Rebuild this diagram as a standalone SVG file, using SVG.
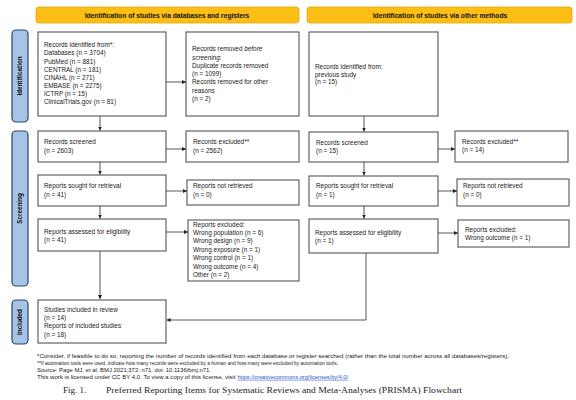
<svg xmlns="http://www.w3.org/2000/svg" width="576" height="400" viewBox="0 0 576 400">
<defs>
<marker id="ah" viewBox="0 0 6 6" refX="6" refY="3" markerWidth="4" markerHeight="4" orient="auto" markerUnits="userSpaceOnUse">
<path d="M0,0 L6,3 L0,6 Z" fill="#222"/>
</marker>
<style>
.box{fill:#fff;stroke:#444;stroke-width:1}
.hdr{fill:#FDBE16;stroke:#E2A40C;stroke-width:0.8}
.side{fill:#A6C4E6;stroke:#2C4567;stroke-width:1.2}
.t{font-family:"Liberation Sans",Arial,sans-serif;font-size:6.4px;fill:#1a1a1a}
.b{font-family:"Liberation Sans",Arial,sans-serif;font-size:6.3px;font-weight:bold;fill:#111}
.h{font-family:"Liberation Sans",Arial,sans-serif;font-size:6.7px;font-weight:bold;fill:#111}
.fn{font-family:"Liberation Sans",Arial,sans-serif;font-size:5.5px;fill:#1a1a1a}
.cap{font-family:"Liberation Serif","Times New Roman",serif;font-size:9px;fill:#222}
.c{fill:none;stroke:#444;stroke-width:0.9}
.ca{fill:none;stroke:#444;stroke-width:0.9;marker-end:url(#ah)}
</style>
</defs>
<rect width="576" height="400" fill="#fff"/>

<g id="hdr-left"><rect class="hdr" x="36" y="7" width="263" height="16" rx="3"/><text class="h" x="167" y="17.6" text-anchor="middle">Identification of studies via databases and registers</text></g>
<g id="hdr-right"><rect class="hdr" x="307" y="7" width="265" height="16" rx="3"/><text class="h" x="440" y="17.6" text-anchor="middle">Identification of studies via other methods</text></g>

<g id="side-identification"><rect class="side" x="12" y="30" width="16" height="92" rx="4"/><text class="b" transform="translate(22.2,76) rotate(-90)" text-anchor="middle">Identification</text></g>
<g id="side-screening"><rect class="side" x="12" y="131" width="16" height="155" rx="4"/><text class="b" transform="translate(22.2,208.5) rotate(-90)" text-anchor="middle">Screening</text></g>
<g id="side-included"><rect class="side" x="12" y="300" width="16" height="44" rx="4"/><text class="b" transform="translate(22.2,322) rotate(-90)" text-anchor="middle">Included</text></g>

<g id="n-identified"><rect class="box" x="38" y="32" width="128" height="84"/>
<text class="t"><tspan x="44" y="47.2">Records identified from*:</tspan><tspan x="44" y="55.35">Databases (n = 3704)</tspan><tspan x="44" y="63.5">PubMed (n = 881)</tspan><tspan x="44" y="71.65">CENTRAL (n = 181)</tspan><tspan x="44" y="79.8">CINAHL (n = 271)</tspan><tspan x="44" y="87.95">EMBASE (n = 2275)</tspan><tspan x="44" y="96.1">ICTRP (n = 15)</tspan><tspan x="44" y="104.25">ClinicalTrials.gov (n = 81)</tspan></text></g>
<g id="n-removed"><rect class="box" x="186" y="32" width="113" height="84"/>
<text class="t"><tspan x="192" y="51.2">Records removed <tspan font-style="italic">before</tspan></tspan><tspan x="192" y="59.5" font-style="italic">screening</tspan><tspan>:</tspan><tspan x="192" y="67.8">Duplicate records removed</tspan><tspan x="192" y="76.1">(n = 1099)</tspan><tspan x="192" y="84.4">Records removed for other</tspan><tspan x="192" y="92.7">reasons</tspan><tspan x="192" y="101">(n = 2)</tspan></text></g>
<g id="n-screened"><rect class="box" x="38" y="131" width="128" height="31"/>
<text class="t"><tspan x="44" y="144.3">Records screened</tspan><tspan x="44" y="152.8">(n = 2603)</tspan></text></g>
<g id="n-excluded"><rect class="box" x="186" y="131" width="113" height="31"/>
<text class="t"><tspan x="193" y="144.3">Records excluded**</tspan><tspan x="193" y="152.8">(n = 2562)</tspan></text></g>
<g id="n-sought"><rect class="box" x="38" y="175" width="128" height="31"/>
<text class="t"><tspan x="44" y="188">Reports sought for retrieval</tspan><tspan x="44" y="196.8">(n = 41)</tspan></text></g>
<g id="n-notretrieved"><rect class="box" x="187" y="180" width="112" height="25"/>
<text class="t"><tspan x="193" y="188">Reports not retrieved</tspan><tspan x="193" y="196.8">(n = 0)</tspan></text></g>
<g id="n-assessed"><rect class="box" x="38" y="219" width="128" height="32"/>
<text class="t"><tspan x="44" y="234">Reports assessed for eligibility</tspan><tspan x="44" y="242.3">(n = 41)</tspan></text></g>
<g id="n-repexcluded"><rect class="box" x="188" y="220" width="111" height="61"/>
<text class="t"><tspan x="193" y="226.5">Reports excluded:</tspan><tspan x="193" y="234.9">Wrong population (n = 6)</tspan><tspan x="193" y="243.3">Wrong design (n = 9)</tspan><tspan x="193" y="251.7">Wrong exposure (n = 1)</tspan><tspan x="193" y="260.1">Wrong control (n = 1)</tspan><tspan x="193" y="268.5">Wrong outcome (n = 4)</tspan><tspan x="193" y="276.9">Other (n = 2)</tspan></text></g>
<g id="n-included"><rect class="box" x="38" y="300" width="128" height="43"/>
<text class="t"><tspan x="44" y="312">Studies included in review</tspan><tspan x="44" y="320.2">(n = 14)</tspan><tspan x="44" y="328.4">Reports of included studies</tspan><tspan x="44" y="336.6">(n = 18)</tspan></text></g>

<g id="o-identified"><rect class="box" x="309" y="32" width="129" height="84"/>
<text class="t"><tspan x="315" y="68.8">Records identified from:</tspan><tspan x="315" y="76.6">previous study</tspan><tspan x="315" y="84.4">(n = 15)</tspan></text></g>
<g id="o-screened"><rect class="box" x="309" y="132" width="129" height="30"/>
<text class="t"><tspan x="316" y="145">Records screened</tspan><tspan x="316" y="153.3">(n = 15)</tspan></text></g>
<g id="o-excluded"><rect class="box" x="455" y="131" width="113" height="31"/>
<text class="t"><tspan x="462" y="144">Records excluded**</tspan><tspan x="462" y="152">(n = 14)</tspan></text></g>
<g id="o-sought"><rect class="box" x="309" y="176" width="129" height="30"/>
<text class="t"><tspan x="316" y="188">Reports sought for retrieval</tspan><tspan x="316" y="196.8">(n = 1)</tspan></text></g>
<g id="o-notretrieved"><rect class="box" x="457" y="179" width="112" height="27"/>
<text class="t"><tspan x="463" y="188">Reports not retrieved</tspan><tspan x="463" y="196.8">(n = 0)</tspan></text></g>
<g id="o-assessed"><rect class="box" x="309" y="219" width="129" height="34"/>
<text class="t"><tspan x="315" y="235">Reports assessed for eligibility</tspan><tspan x="315" y="243">(n = 1)</tspan></text></g>
<g id="o-repexcluded"><rect class="box" x="458" y="220" width="111" height="27"/>
<text class="t"><tspan x="465" y="232">Reports excluded:</tspan><tspan x="465" y="240">Wrong outcome (n = 1)</tspan></text></g>

<g id="connectors">
<line class="ca" x1="166" y1="82" x2="186" y2="82"/>
<line class="ca" x1="100" y1="116" x2="100" y2="130.5"/>
<line class="ca" x1="166" y1="149" x2="186" y2="149"/>
<line class="ca" x1="100" y1="162" x2="100" y2="174.5"/>
<line class="ca" x1="166" y1="191" x2="187" y2="191"/>
<line class="ca" x1="100" y1="206" x2="100" y2="218.5"/>
<line class="ca" x1="166" y1="232" x2="188" y2="232"/>
<line class="ca" x1="100" y1="251" x2="100" y2="299"/>
<line class="ca" x1="364" y1="116" x2="364" y2="131.5"/>
<line class="ca" x1="438" y1="149" x2="455" y2="149"/>
<line class="ca" x1="364" y1="162" x2="364" y2="175.5"/>
<line class="ca" x1="438" y1="191" x2="457" y2="191"/>
<line class="ca" x1="364" y1="206" x2="364" y2="218.5"/>
<line class="ca" x1="438" y1="233" x2="458" y2="233"/>
<polyline class="ca" points="366,253 366,320 166.5,320"/>
</g>

<g id="footnotes">
<text class="fn" x="37" y="357.5" textLength="472" lengthAdjust="spacingAndGlyphs">*Consider, if feasible to do so, reporting the number of records identified from each database or register searched (rather than the total number across all databases/registers).</text>
<text class="fn" x="37" y="364.6" textLength="301" lengthAdjust="spacingAndGlyphs">**If automation tools were used, indicate how many records were excluded by a human and how many were excluded by automation tools.</text>
<text class="fn" x="37" y="371.7" textLength="174" lengthAdjust="spacingAndGlyphs">Source: Page MJ, et al. BMJ 2021;372: n71. doi: 10.1136/bmj.n71.</text>
<text class="fn" x="37" y="378.8"><tspan textLength="200" lengthAdjust="spacingAndGlyphs">This work is licensed under CC BY 4.0. To view a copy of this license, visit </tspan><tspan x="237.5" fill="#2255cc" text-decoration="underline" textLength="110.5" lengthAdjust="spacingAndGlyphs">https://creativecommons.org/licenses/by/4.0/</tspan></text>
<text class="cap" x="63" y="392.5">Fig. 1.</text>
<text class="cap" x="106" y="392.5" textLength="356" lengthAdjust="spacingAndGlyphs">Preferred Reporting Items for Systematic Reviews and Meta-Analyses (PRISMA) Flowchart</text>
</g>
</svg>
